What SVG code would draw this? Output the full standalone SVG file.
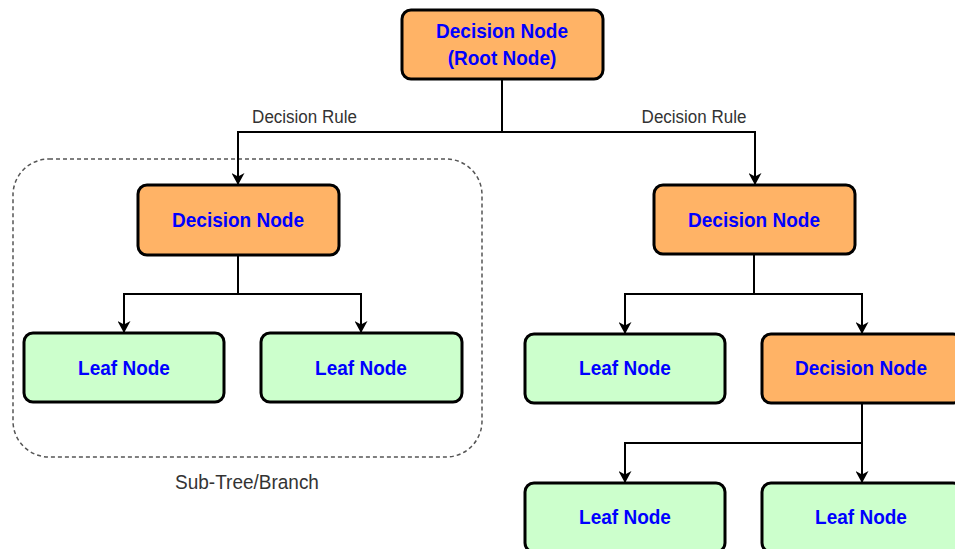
<svg xmlns="http://www.w3.org/2000/svg" width="955" height="549" viewBox="0 0 955 549">
  <style>
    .decision { fill: #FFB366; stroke: #000; stroke-width: 3; }
    .leaf { fill: #CCFFCC; stroke: #000; stroke-width: 3; }
    .label { font-family: "Liberation Sans", Arial, sans-serif; font-weight: bold; font-size: 19px; fill: #0000FF; text-anchor: middle; }
    .note { font-family: "Liberation Sans", Arial, sans-serif; font-size: 17px; fill: #333; text-anchor: middle; }
    .edge { fill: none; stroke: #000; stroke-width: 2; }
  </style>
  <defs>
    <marker id="arrow" viewBox="0 0 12 13" refX="12" refY="6.5" markerWidth="12" markerHeight="13" orient="auto" markerUnits="userSpaceOnUse">
      <path d="M0,0 L12,6.5 L0,13 L3.5,6.5 z" fill="#000"/>
    </marker>
  </defs>
  <rect width="955" height="549" fill="#fff"/>

  <!-- sub-tree outline -->
  <g id="subtree">
    <rect x="13" y="159" width="469" height="298" rx="36" fill="none" stroke="#555" stroke-width="1.5" stroke-dasharray="4 3"/>
    <text class="note" transform="translate(247,489) scale(1,1.09)" style="font-size:19px">Sub-Tree/Branch</text>
  </g>

  <!-- connectors -->
  <g id="connectors">
    <path class="edge" d="M502,79 V132 H238 V185" marker-end="url(#arrow)"/>
    <path class="edge" d="M502,132 H755 V185" marker-end="url(#arrow)"/>
    <path class="edge" d="M238,255 V294 H124 V333" marker-end="url(#arrow)"/>
    <path class="edge" d="M238,294 H361 V333" marker-end="url(#arrow)"/>
    <path class="edge" d="M754,254 V294 H625 V334" marker-end="url(#arrow)"/>
    <path class="edge" d="M754,294 H862 V334" marker-end="url(#arrow)"/>
    <path class="edge" d="M862,403 V483" marker-end="url(#arrow)"/>
    <path class="edge" d="M862,443 H625 V483" marker-end="url(#arrow)"/>
    <text class="note" transform="translate(304.5,123) scale(1,1.09)">Decision Rule</text>
    <text class="note" transform="translate(694,123) scale(1,1.09)">Decision Rule</text>
  </g>

  <g id="root">
    <rect class="decision" x="402" y="10" width="201" height="69" rx="9"/>
    <text class="label" transform="translate(502,38) scale(1,1.09)">Decision Node</text>
    <text class="label" transform="translate(502,65) scale(1,1.09)">(Root Node)</text>
  </g>

  <g id="decision-left">
    <rect class="decision" x="138" y="185" width="201" height="70" rx="9"/>
    <text class="label" transform="translate(238,227) scale(1,1.09)">Decision Node</text>
  </g>

  <g id="decision-right">
    <rect class="decision" x="654" y="185" width="201" height="69" rx="9"/>
    <text class="label" transform="translate(754,227) scale(1,1.09)">Decision Node</text>
  </g>

  <g id="leaf-1">
    <rect class="leaf" x="24" y="333" width="200" height="69" rx="9"/>
    <text class="label" transform="translate(124,375) scale(1,1.09)">Leaf Node</text>
  </g>

  <g id="leaf-2">
    <rect class="leaf" x="261" y="333" width="201" height="69" rx="9"/>
    <text class="label" transform="translate(361,375) scale(1,1.09)">Leaf Node</text>
  </g>

  <g id="leaf-3">
    <rect class="leaf" x="525" y="334" width="200" height="69" rx="9"/>
    <text class="label" transform="translate(625,375) scale(1,1.09)">Leaf Node</text>
  </g>

  <g id="decision-lower">
    <rect class="decision" x="762" y="334" width="200" height="69" rx="9"/>
    <text class="label" transform="translate(861,375) scale(1,1.09)">Decision Node</text>
  </g>

  <g id="leaf-4">
    <rect class="leaf" x="525" y="483" width="200" height="69" rx="9"/>
    <text class="label" transform="translate(625,524) scale(1,1.09)">Leaf Node</text>
  </g>

  <g id="leaf-5">
    <rect class="leaf" x="762" y="483" width="200" height="69" rx="9"/>
    <text class="label" transform="translate(861,524) scale(1,1.09)">Leaf Node</text>
  </g>
</svg>
